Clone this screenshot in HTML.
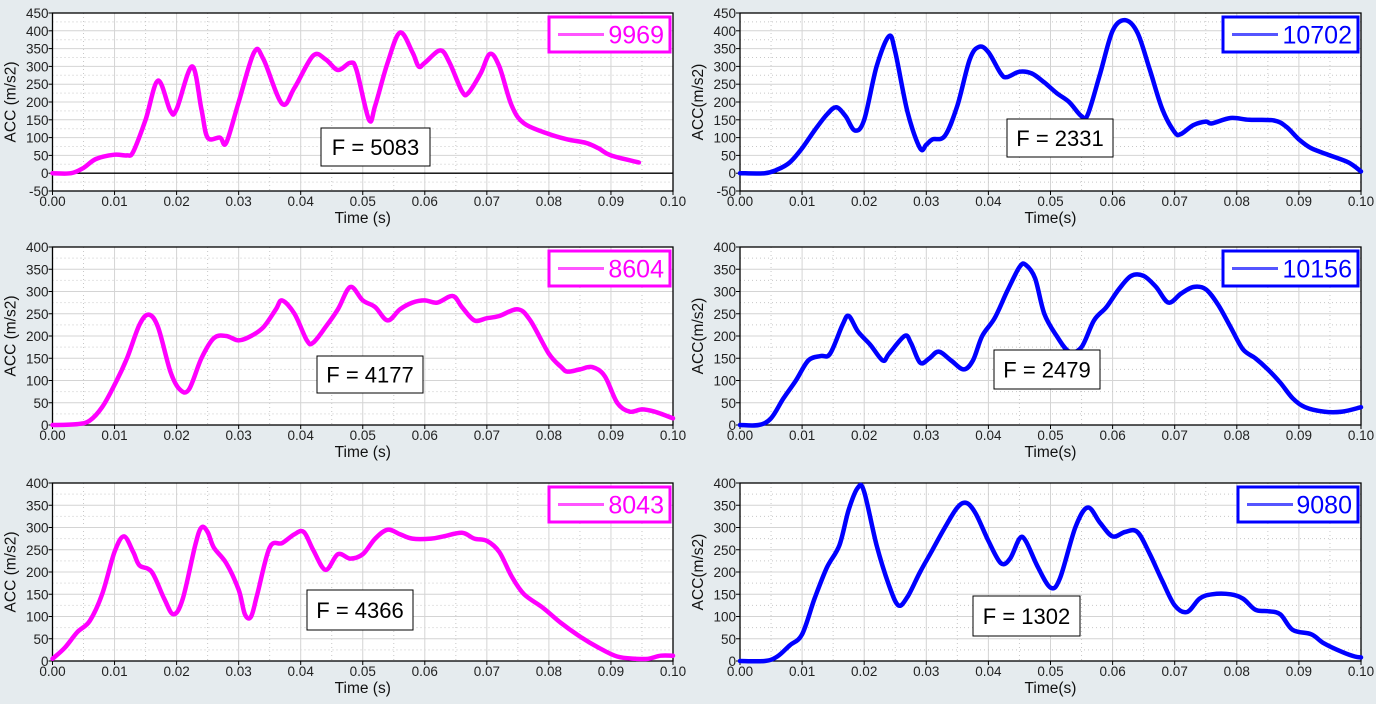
<!DOCTYPE html>
<html><head><meta charset="utf-8">
<style>
html,body{margin:0;padding:0;background:#e5ebee;}
svg{display:block;font-family:"Liberation Sans","DejaVu Sans",sans-serif;}
</style></head>
<body>
<svg id="c" width="1376" height="704"></svg>
<script>
const t1=[0,0.003,0.005,0.007,0.01,0.012,0.013,0.015,0.017,0.019,0.02,0.0225,0.024,0.025,0.027,0.028,0.03,0.0325,0.034,0.037,0.039,0.042,0.044,0.046,0.048,0.049,0.051,0.052,0.054,0.056,0.058,0.059,0.06,0.0625,0.064,0.066,0.067,0.069,0.0705,0.072,0.074,0.076,0.08,0.083,0.086,0.088,0.09,0.0945];
const v1=[0,0,15,40,52,50,60,150,260,175,180,300,180,100,100,85,200,340,320,195,240,330,320,290,310,290,150,190,310,395,340,300,310,345,310,230,225,280,335,300,190,140,110,95,85,70,50,30];
const t2=[0,0.004,0.006,0.008,0.01,0.012,0.014,0.0155,0.017,0.0185,0.02,0.022,0.024,0.025,0.027,0.029,0.03,0.031,0.033,0.035,0.037,0.0385,0.04,0.042,0.043,0.045,0.047,0.049,0.051,0.053,0.055,0.056,0.058,0.06,0.062,0.064,0.066,0.068,0.07,0.071,0.073,0.075,0.076,0.079,0.082,0.086,0.088,0.09,0.092,0.095,0.098,0.1];
const v2=[0,0,10,30,70,120,165,185,160,120,150,300,385,340,170,70,80,95,105,190,320,355,340,280,270,285,280,255,225,200,160,165,280,400,430,395,290,180,115,110,135,145,140,155,150,148,130,95,70,50,30,5];
const t3=[0,0.004,0.006,0.008,0.01,0.012,0.014,0.0155,0.017,0.019,0.0205,0.022,0.024,0.026,0.028,0.03,0.032,0.034,0.036,0.037,0.039,0.041,0.042,0.044,0.046,0.048,0.05,0.052,0.054,0.056,0.058,0.06,0.062,0.0645,0.066,0.068,0.07,0.072,0.075,0.077,0.08,0.082,0.083,0.085,0.087,0.089,0.091,0.093,0.095,0.097,0.1];
const v3=[0,2,10,40,90,150,225,248,220,120,80,80,150,195,200,190,200,220,260,280,250,190,185,220,260,310,280,265,235,260,275,280,275,290,265,235,240,245,260,235,160,130,120,125,130,110,50,30,35,30,15];
const t4=[0,0.003,0.005,0.007,0.009,0.011,0.013,0.0145,0.0165,0.0175,0.019,0.021,0.023,0.024,0.0265,0.0275,0.029,0.0305,0.032,0.034,0.036,0.0375,0.039,0.041,0.043,0.045,0.046,0.0475,0.049,0.051,0.053,0.055,0.057,0.059,0.061,0.063,0.065,0.067,0.069,0.071,0.073,0.075,0.077,0.079,0.081,0.083,0.085,0.087,0.089,0.091,0.094,0.097,0.1];
const v4=[0,0,15,60,100,145,155,160,225,245,210,180,145,160,200,185,140,150,165,145,125,145,200,240,300,355,360,330,250,200,165,175,235,265,305,335,335,310,275,295,310,305,270,220,170,150,125,95,60,40,30,30,40];
const t5=[0,0.002,0.004,0.006,0.008,0.01,0.0115,0.013,0.014,0.016,0.018,0.0195,0.021,0.023,0.024,0.025,0.026,0.028,0.03,0.031,0.032,0.033,0.035,0.037,0.039,0.0405,0.042,0.044,0.046,0.048,0.05,0.052,0.054,0.056,0.058,0.061,0.063,0.066,0.068,0.07,0.072,0.074,0.076,0.079,0.082,0.085,0.088,0.091,0.094,0.096,0.098,0.1];
const v5=[5,30,65,90,150,245,280,245,215,200,140,105,140,260,300,290,255,220,160,105,100,150,255,265,285,290,250,205,240,230,240,275,295,285,275,275,280,288,275,270,245,190,150,120,85,55,30,10,5,5,12,12];
const t6=[0,0.004,0.006,0.008,0.01,0.012,0.014,0.016,0.0175,0.019,0.02,0.022,0.024,0.0255,0.027,0.029,0.031,0.033,0.035,0.0365,0.038,0.04,0.042,0.0435,0.045,0.046,0.048,0.05,0.0515,0.054,0.056,0.058,0.06,0.062,0.064,0.066,0.068,0.07,0.072,0.074,0.076,0.079,0.081,0.083,0.085,0.087,0.089,0.092,0.094,0.097,0.099,0.1];
const v6=[0,0,10,35,60,140,210,260,340,390,380,260,170,125,145,200,250,300,345,355,330,270,220,230,275,270,210,165,185,300,345,310,280,290,290,240,180,125,110,140,150,150,140,115,112,105,70,60,40,20,10,8];
const xTicks=["0.00","0.01","0.02","0.03","0.04","0.05","0.06","0.07","0.08","0.09","0.10"];

const NS="http://www.w3.org/2000/svg";
const svg=document.getElementById('c');
function mk(tag,attrs,parent){const e=document.createElementNS(NS,tag);for(const k in attrs)e.setAttribute(k,attrs[k]);(parent||svg).appendChild(e);return e;}

const panels=[
 {id:'p1',x0:52.5,x1:673,y0:13,y1:191,ymin:-50,ymax:450,t:t1,v:v1,col:'#ff00ff',leg:'9969',lx:549,ly:17,lw:121,lh:35,F:'F = 5083',fx:321,fy:128,fw:109,fh:38,yl:'ACC (m/s2)',xl:'Time (s)',zero:true},
 {id:'p2',x0:740,x1:1361,y0:13,y1:191,ymin:-50,ymax:450,t:t2,v:v2,col:'#0000ff',leg:'10702',lx:1223,ly:17,lw:135,lh:35,F:'F = 2331',fx:1007,fy:119,fw:106,fh:38,yl:'ACC(m/s2)',xl:'Time(s)',zero:true},
 {id:'p3',x0:52.5,x1:673,y0:247,y1:425,ymin:0,ymax:400,t:t3,v:v3,col:'#ff00ff',leg:'8604',lx:549,ly:251,lw:121,lh:35,F:'F = 4177',fx:317,fy:356,fw:106,fh:37,yl:'ACC (m/s2)',xl:'Time (s)'},
 {id:'p4',x0:740,x1:1361,y0:247,y1:425,ymin:0,ymax:400,t:t4,v:v4,col:'#0000ff',leg:'10156',lx:1223,ly:251,lw:135,lh:35,F:'F = 2479',fx:994,fy:350,fw:106,fh:39,yl:'ACC(m/s2)',xl:'Time(s)'},
 {id:'p5',x0:52.5,x1:673,y0:483,y1:661,ymin:0,ymax:400,t:t5,v:v5,col:'#ff00ff',leg:'8043',lx:549,ly:487,lw:121,lh:35,F:'F = 4366',fx:307,fy:590,fw:106,fh:40,yl:'ACC (m/s2)',xl:'Time (s)'},
 {id:'p6',x0:740,x1:1361,y0:483,y1:661,ymin:0,ymax:400,t:t6,v:v6,col:'#0000ff',leg:'9080',lx:1238,ly:487,lw:120,lh:35,F:'F = 1302',fx:973,fy:596,fw:107,fh:40,yl:'ACC(m/s2)',xl:'Time(s)'}
];

function smoothPath(pts){
 let d=`M${pts[0][0].toFixed(1)},${pts[0][1].toFixed(1)}`;
 for(let i=0;i<pts.length-1;i++){
  const p0=pts[Math.max(0,i-1)],p1=pts[i],p2=pts[i+1],p3=pts[Math.min(pts.length-1,i+2)];
  const c1x=p1[0]+(p2[0]-p0[0])/6,c1y=p1[1]+(p2[1]-p0[1])/6;
  const c2x=p2[0]-(p3[0]-p1[0])/6,c2y=p2[1]-(p3[1]-p1[1])/6;
  d+=`C${c1x.toFixed(1)},${c1y.toFixed(1)} ${c2x.toFixed(1)},${c2y.toFixed(1)} ${p2[0].toFixed(1)},${p2[1].toFixed(1)}`;
 }
 return d;
}

panels.forEach(p=>{
 const g=mk('g',{});
 
 
 const X=t=>p.x0+(t/0.1)*(p.x1-p.x0);
 const Y=v=>p.y1-(v-p.ymin)/(p.ymax-p.ymin)*(p.y1-p.y0);
 const bg=mk('rect',{x:p.x0,y:p.y0,width:p.x1-p.x0,height:p.y1-p.y0,fill:'#fff'},g);
 
 
 // grid
 for(let i=0;i<=20;i++){
  const x=X(i*0.005);
  if(i%2==0) mk('line',{x1:x,x2:x,y1:p.y0,y2:p.y1,stroke:'#d4d4d4','stroke-width':1},g);
  else mk('line',{x1:x,x2:x,y1:p.y0,y2:p.y1,stroke:'#c8c8c8','stroke-width':1,'stroke-dasharray':'1,3'},g);
 }
 for(let v=p.ymin;v<=p.ymax;v+=25){
  const y=Y(v);
  if((v-p.ymin)%50==0) mk('line',{x1:p.x0,x2:p.x1,y1:y,y2:y,stroke:'#d4d4d4','stroke-width':1},g);
  else mk('line',{x1:p.x0,x2:p.x1,y1:y,y2:y,stroke:'#c8c8c8','stroke-width':1,'stroke-dasharray':'1,3'},g);
 }
 if(p.zero) mk('line',{x1:p.x0,x2:p.x1,y1:Y(0),y2:Y(0),stroke:'#000','stroke-width':1.3},g);
 mk('rect',{x:p.x0,y:p.y0,width:p.x1-p.x0,height:p.y1-p.y0,fill:'none',stroke:'#000','stroke-width':1.3},g);
 // y ticks
 for(let v=p.ymin;v<=p.ymax;v+=50){
  const y=Y(v);
  mk('line',{x1:p.x0-4,x2:p.x0,y1:y,y2:y,stroke:'#000'},g);
  const tx=mk('text',{x:p.x0-4,y:y+5,'text-anchor':'end','font-size':13.5,fill:'#222'},g);
  tx.textContent=String(v);
  
  
 }
 xTicks.forEach((lab,i)=>{
  const x=X(i*0.01);
  mk('line',{x1:x,x2:x,y1:p.y1,y2:p.y1+4,stroke:'#000'},g);
  const tx=mk('text',{x:x,y:p.y1+15,'text-anchor':'middle','font-size':13.5,fill:'#222'},g);
  tx.textContent=lab;
  
  
 });
 const xt=mk('text',{x:(p.x0+p.x1)/2,y:p.y1+32,'text-anchor':'middle','font-size':15.5,fill:'#111'},g);
 xt.textContent=p.xl;
 
 
 const cy=(p.y0+p.y1)/2, cx=p.x0-37;
 const yt=mk('text',{x:cx,y:cy,'text-anchor':'middle','font-size':15.5,fill:'#111',transform:`rotate(-90 ${cx} ${cy})`},g);
 yt.textContent=p.yl;
 
 
 // series
 const pts=p.t.map((t,i)=>[X(t),Y(p.v[i])]);
 const ln=mk('path',{d:smoothPath(pts),fill:'none',stroke:p.col,'stroke-width':4.5,'stroke-linejoin':'round','stroke-linecap':'round'},g);
 
 
 // legend
 const lg=mk('g',{},g);
 
 
 mk('rect',{x:p.lx,y:p.ly,width:p.lw,height:p.lh,fill:'#fff',stroke:p.col,'stroke-width':3},lg);
 const lcol=p.col=='#ff00ff'?'#ff55ff':'#5555ff';
 mk('line',{x1:p.lx+9,x2:p.lx+55,y1:p.ly+p.lh/2,y2:p.ly+p.lh/2,stroke:lcol,'stroke-width':3},lg);
 const lt=mk('text',{x:p.lx+p.lw-6,y:p.ly+p.lh/2+9,'text-anchor':'end','font-size':25,fill:p.col},lg);
 lt.textContent=p.leg;
 // F box
 const fb=mk('g',{},g);
 
 
 mk('rect',{x:p.fx,y:p.fy,width:p.fw,height:p.fh,fill:'#fff',stroke:'#000','stroke-width':1},fb);
 const ft=mk('text',{x:p.fx+p.fw/2,y:p.fy+p.fh/2+8,'text-anchor':'middle','font-size':22,fill:'#000'},fb);
 ft.textContent=p.F;
});
</script>
</body></html>
